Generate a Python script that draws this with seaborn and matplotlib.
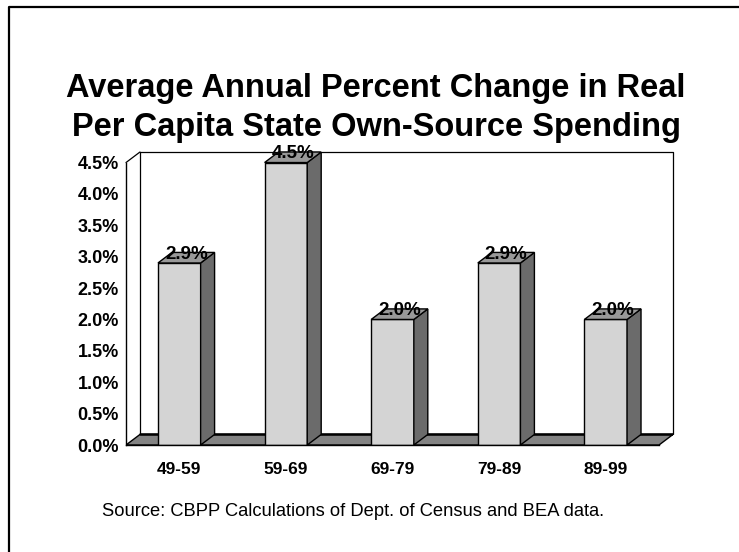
import matplotlib
matplotlib.use("Agg")
import matplotlib.pyplot as plt
from matplotlib.patches import Polygon
from matplotlib.lines import Line2D
import seaborn as sns
import pandas as pd

# Data
periods = ["49-59", "59-69", "69-79", "79-89", "89-99"]
pct_change = [2.9, 4.5, 2.0, 2.9, 2.0]
y_ticks = [0.0, 0.5, 1.0, 1.5, 2.0, 2.5, 3.0, 3.5, 4.0, 4.5]

title = "Average Annual Percent Change in Real\nPer Capita State Own-Source Spending"
source = "Source: CBPP Calculations of Dept. of Census and BEA data."

sns.set_theme(style="white")
plt.rcParams["font.family"] = ["Liberation Sans", "DejaVu Sans"]
plt.rcParams["text.color"] = "black"
plt.rcParams["xtick.color"] = "black"
plt.rcParams["ytick.color"] = "black"

FRONT = "#d4d4d4"
SIDE = "#6b6b6b"
TOP = "#999999"
FLOOR = "#838383"

# 3-D depth offset in data units
dx, dy = 0.131, 0.168
ymax = 4.5

fig = plt.figure(figsize=(7.39, 5.52), dpi=100)
ax = fig.add_axes([126 / 739, (552 - 445) / 552, 547 / 739, 293 / 552])

df = pd.DataFrame({"period": periods, "pct": pct_change})
sns.barplot(data=df, x="period", y="pct", width=0.4, color=FRONT,
            saturation=1, edgecolor="black", linewidth=1.0, ax=ax)

ax.set_xlim(-0.5, 4.5 + dx)
ax.set_ylim(0, ymax + dy)

# floor
floor = Polygon([(-0.5, 0), (4.5, 0), (4.5 + dx, dy), (-0.5 + dx, dy)],
                closed=True, facecolor=FLOOR, edgecolor="black", lw=1.0,
                zorder=0.5)
ax.add_patch(floor)
# back floor edge
ax.add_line(Line2D([-0.5 + dx, 4.5 + dx], [dy, dy], color="black", lw=1.8,
                   zorder=0.6))
# back wall and left wall outlines
ax.add_line(Line2D([-0.5 + dx, -0.5 + dx, 4.5 + dx, 4.5 + dx],
                   [dy, ymax + dy, ymax + dy, dy], color="black", lw=0.9,
                   zorder=0.6, clip_on=False))
ax.add_line(Line2D([-0.5, -0.5 + dx], [ymax, ymax + dy], color="black",
                   lw=0.9, zorder=0.6, clip_on=False))

# depth faces for each bar
for bar, val in zip(ax.patches[:len(periods)], pct_change):
    bar.set_zorder(2)
    x0 = bar.get_x()
    w = bar.get_width()
    h = bar.get_height()
    side = Polygon([(x0 + w, 0), (x0 + w + dx, dy), (x0 + w + dx, h + dy),
                    (x0 + w, h)], closed=True, facecolor=SIDE,
                   edgecolor="black", lw=1.0, zorder=2)
    top = Polygon([(x0, h), (x0 + w, h), (x0 + w + dx, h + dy),
                   (x0 + dx, h + dy)], closed=True, facecolor=TOP,
                  edgecolor="black", lw=1.0, zorder=2, clip_on=False)
    ax.add_patch(side)
    ax.add_patch(top)
    ax.text(x0 + w / 2 + dx / 2, h + 0.07, f"{val:.1f}%", ha="center",
            va="baseline", fontsize=13.5, fontweight="bold", color="black",
            zorder=3, clip_on=False)

# axes styling
for s in ["top", "right"]:
    ax.spines[s].set_visible(False)
ax.spines["left"].set_bounds(0, ymax)
ax.spines["bottom"].set_bounds(-0.5, 4.5)
for s in ["left", "bottom"]:
    ax.spines[s].set_color("black")
    ax.spines[s].set_linewidth(1.0)
    ax.spines[s].set_zorder(3)

ax.set_yticks(y_ticks)
ax.set_yticklabels([f"{v:.1f}%" for v in y_ticks])
ax.set_xticks([i - 0.5 for i in range(len(periods) + 1)])
ax.set_xticklabels([])
ax.set_xticks(range(len(periods)), minor=True)
ax.set_xticklabels(periods, minor=True)
ax.tick_params(axis="y", which="major", direction="out", length=4, width=1,
               color="black", pad=1, labelsize=13, labelcolor="black")
ax.tick_params(axis="x", which="major", direction="out", length=5, width=1,
               color="black")
ax.tick_params(axis="x", which="minor", length=0, pad=12, labelsize=12.5,
               labelcolor="black")
for lbl in ax.get_yticklabels() + ax.get_xticklabels(minor=True):
    lbl.set_fontweight("bold")
ax.set_xlabel("")
ax.set_ylabel("")
ax.grid(False)
ax.set_facecolor("none")

fig.text(376 / 739, 1 - 108 / 552, title, ha="center", va="center",
         fontsize=23.5, fontweight="bold", linespacing=1.3, color="black")
fig.text(353 / 739, 1 - 511 / 552, source, ha="center", va="center",
         fontsize=13.2, color="black")

# page frame (top and left edges)
fig.add_artist(Line2D([9 / 739, 9 / 739, 1], [0, 1 - 7 / 552, 1 - 7 / 552],
                      transform=fig.transFigure, color="black", lw=1.6))

fig.savefig("out.png", dpi=100)
